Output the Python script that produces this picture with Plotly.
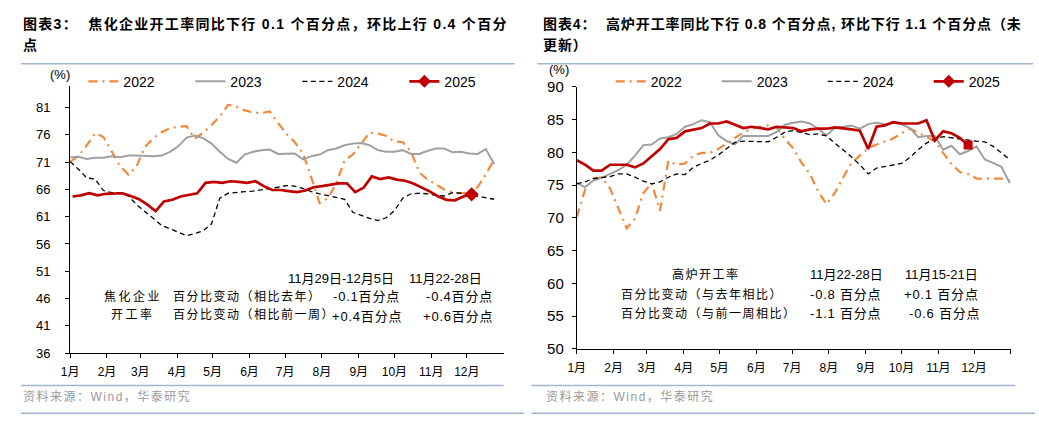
import pandas as pd
import plotly.graph_objects as go

# ---------------- data ----------------
month_labels = ["1月", "2月", "3月", "4月", "5月", "6月", "7月", "8月", "9月", "10月", "11月", "12月"]
series_names = ["2022", "2023", "2024", "2025"]

# Coking enterprises operating rate (%), weekly, plotted on a common calendar
coke_2022 = [71.1, 72.1, 74.1, 76.3, 75.6, 72.9, 70.3, 68.7, 70.3, 73.8, 75.4, 76.5, 77.2, 77.5, 77.6, 75.3,
             76.4, 77.8, 79.4, 81.5, 81.2, 80.5, 80.1, 80.0, 80.3, 78.2, 76.2, 74.7, 72.6, 68.2, 63.5, 64.4,
             67.1, 71.3, 72.4, 74.4, 76.4, 76.3, 75.8, 74.8, 74.7, 72.9, 69.1, 67.8, 66.9, 66.0, 65.4, 65.3,
             65.4, 66.4, 68.8, 71.5]
coke_2023 = [71.9, 72.0, 71.6, 71.8, 71.8, 72.1, 71.9, 72.2, 72.2, 72.1, 72.1, 72.2, 72.9, 73.9, 75.5, 75.9,
             75.4, 74.4, 72.9, 71.6, 70.9, 72.4, 72.9, 73.2, 73.3, 72.5, 72.5, 72.6, 71.5, 72.1, 72.4, 73.2,
             73.5, 74.1, 74.4, 74.5, 74.1, 73.2, 72.9, 72.9, 73.2, 72.5, 72.5, 73.1, 73.5, 73.5, 72.8, 72.9,
             72.6, 72.5, 73.4, 70.6]
coke_2024 = [71.1, 69.7, 68.1, 67.9, 65.8, 65.4, 65.4, 64.8, 63.2, 61.9, 60.7, 59.4, 58.8, 58.2, 57.5, 57.9,
             58.4, 59.7, 64.4, 65.3, 65.5, 65.6, 65.7, 65.9, 66.2, 66.4, 66.7, 66.6, 66.2, 65.6, 65.2, 64.9,
             64.6, 64.2, 61.8, 61.2, 60.7, 60.3, 60.8, 62.1, 64.4, 65.2, 65.3, 65.2, 64.9, 64.8, 65.4, 65.3,
             65.0, 64.8, 64.4, 64.2]
coke_2025 = [64.7, 64.9, 65.3, 64.9, 65.2, 65.3, 65.3, 64.8, 64.2, 63.2, 62.0, 63.8, 64.1, 64.7, 65.0, 65.3,
             67.2, 67.4, 67.2, 67.5, 67.4, 67.2, 67.5, 66.6, 65.9, 65.9, 65.7, 65.5, 65.8, 66.4, 66.6, 66.8,
             67.1, 67.1, 65.5, 66.3, 68.4, 67.9, 68.2, 67.8, 67.6, 67.1, 66.4, 65.6, 64.7, 64.1, 64.0, 64.7,
             65.1]
coke_starts = ["2025-01-01", "2025-01-01", "2025-01-01", "2025-01-03"]

# Blast furnace operating rate (%), weekly
bf_2022 = [70.1, 74.3, 76.0, 76.2, 74.5, 71.3, 68.4, 69.9, 73.8, 75.3, 71.1, 78.7, 78.1, 78.3, 79.5, 79.9,
           79.9, 80.5, 81.4, 82.2, 83.0, 83.6, 83.9, 84.1, 83.8, 82.0, 80.6, 78.4, 76.7, 74.0, 72.1, 73.8,
           76.2, 78.4, 79.5, 80.6, 81.2, 81.7, 82.1, 82.9, 83.6, 83.0, 82.3, 81.7, 79.9, 78.2, 77.0, 76.7,
           76.0, 76.0, 76.0, 76.0, 75.7]
bf_2023 = [75.3, 74.7, 75.7, 76.1, 76.7, 77.3, 78.1, 79.5, 81.1, 81.2, 82.1, 82.3, 82.8, 83.9, 84.3, 84.9,
           84.6, 82.6, 81.7, 81.2, 82.5, 82.5, 82.5, 82.5, 83.1, 84.2, 84.5, 84.7, 84.4, 83.6, 82.6, 83.7,
           83.9, 84.1, 83.6, 84.3, 84.5, 84.3, 84.5, 84.3, 83.7, 82.3, 82.5, 82.5, 80.4, 81.0, 79.7, 80.2,
           80.9, 78.9, 78.4, 77.8, 75.3]
bf_2024 = [75.2, 75.5, 76.0, 76.2, 76.3, 76.7, 76.7, 76.2, 75.6, 75.2, 75.5, 76.2, 76.7, 76.6, 77.7, 78.3,
           78.8, 79.6, 80.6, 81.5, 81.7, 81.7, 81.7, 81.6, 82.3, 83.1, 83.3, 83.0, 82.7, 82.8, 82.5, 81.4,
           80.4, 79.3, 78.1, 76.7, 77.6, 77.8, 78.1, 78.3, 79.2, 80.4, 81.4, 82.1, 82.4, 82.2, 82.0, 81.8,
           81.7, 81.6, 80.9, 79.9, 78.9]
bf_2025 = [78.8, 78.1, 77.2, 77.2, 78.1, 78.1, 78.1, 77.7, 78.3, 79.4, 80.5, 82.0, 82.2, 83.2, 83.5, 83.7,
           84.4, 84.4, 84.7, 84.2, 83.7, 83.9, 83.7, 83.5, 83.9, 83.8, 83.7, 83.2, 83.5, 83.6, 83.6, 83.8,
           83.7, 83.5, 83.3, 80.5, 83.9, 84.1, 84.6, 84.4, 84.4, 84.4, 84.9, 81.8, 83.2, 82.9, 82.2, 81.1]
bf_starts = ["2025-01-01", "2025-01-01", "2025-01-01", "2025-01-01"]

coke_ticks = list(range(36, 82, 5))
bf_ticks = list(range(50, 91, 5))

coke_title = ["图表3：\u00a0\u00a0焦化企业开工率同比下行 0.1 个百分点，环比上行 0.4 个百分", "点"]
bf_title = ["图表4：\u00a0\u00a0高炉开工率同比下行 0.8 个百分点, 环比下行 1.1 个百分点（未", "更新）"]
source_text = "资料来源：Wind，华泰研究"

coke_table = {
    "head": ["11月29日-12月5日", "11月22-28日"],
    "label": ["焦化企业", "开工率"],
    "rows": ["百分比变动（相比去年）", "百分比变动（相比前一周）"],
    "v1": ["-0.1百分点", "+0.4百分点"],
    "v2": ["-0.4百分点", "+0.6百分点"],
}
bf_table = {
    "label": "高炉开工率",
    "head": ["11月22-28日", "11月15-21日"],
    "rows": ["百分比变动（与去年相比）", "百分比变动（与前一周相比）"],
    "v1": ["-0.8 百分点", "-1.1 百分点"],
    "v2": ["+0.1 百分点", "-0.6 百分点"],
}

# ---------------- styles ----------------
W, H = 1039, 427
FONT = "Liberation Sans, Arial, Noto Sans CJK SC"
C22, C23, C24, C25 = "#F4883A", "#A0A0A0", "#000000", "#C00000"
RULE = "#A3B5CE"


def px(x):
    return x / W


def py(y):
    return 1 - y / H


def weeks(start, n):
    return pd.date_range(start, periods=n, freq="7D")


def ls(text, sp):
    return f'<span style="letter-spacing:{sp}px">{text}</span>'


styles = [
    dict(color=C22, width=2.2, dash="9px,5px,2px,5px"),
    dict(color=C23, width=2.0),
    dict(color=C24, width=1.3, dash="5px,3.5px"),
    dict(color=C25, width=2.7),
]

fig = go.Figure()

panels = [
    ("x", "y", "legend", [coke_2022, coke_2023, coke_2024, coke_2025], coke_starts, "diamond", 11),
    ("x2", "y2", "legend2", [bf_2022, bf_2023, bf_2024, bf_2025], bf_starts, "square", 9),
]
for xa, ya, lg, data, starts, sym, msize in panels:
    for name, vals, st, style in zip(series_names, data, starts, styles):
        xs = weeks(st, len(vals))
        is_red = name == "2025"
        fig.add_trace(go.Scatter(x=xs, y=vals, mode="lines", line=style, name=name,
                                 xaxis=xa, yaxis=ya, legend=lg, showlegend=not is_red,
                                 hoverinfo="skip"))
        if is_red:
            fig.add_trace(go.Scatter(x=[xs[-1]], y=[vals[-1]], mode="markers",
                                     marker=dict(symbol=sym, size=msize, color=C25),
                                     xaxis=xa, yaxis=ya, showlegend=False, hoverinfo="skip"))
            fig.add_trace(go.Scatter(x=[None], y=[None], mode="lines+markers", name=name,
                                     line=style, marker=dict(symbol="diamond", size=10, color=C25),
                                     xaxis=xa, yaxis=ya, legend=lg, showlegend=True))

month_vals = [f"2025-{m:02d}-01" for m in range(1, 13)]
xcommon = dict(type="date", range=["2025-01-01", "2026-01-01"], showline=True, linecolor="black",
               linewidth=1, ticks="outside", ticklen=4, tickcolor="black", showgrid=False,
               zeroline=False, tickfont=dict(family=FONT, size=12, color="black"), ticklabelstandoff=4)
fig.update_layout(
    xaxis=dict(domain=[px(61.7), px(499)], tickvals=month_vals, ticktext=month_labels, anchor="y", **xcommon),
    xaxis2=dict(domain=[px(572.7), px(1010.7)], tickvals=month_vals + ["2026-01-01"],
                ticktext=month_labels + [""], anchor="y2", **xcommon),
    yaxis=dict(domain=[py(358.3), py(80)], range=[36, 85], tickvals=coke_ticks, showline=True,
               linecolor="black", linewidth=1, ticks="outside", ticklen=4, tickcolor="black",
               showgrid=False, zeroline=False, tickfont=dict(family=FONT, size=13, color="black"),
               ticklabelstandoff=12, anchor="x"),
    yaxis2=dict(domain=[py(354), py(81)], range=[50, 90], tickvals=bf_ticks, showline=True,
                linecolor="black", linewidth=1, ticks="outside", ticklen=4, tickcolor="black",
                showgrid=False, zeroline=False, tickfont=dict(family=FONT, size=15, color="black"),
                ticklabelstandoff=5, anchor="x2"),
    legend=dict(orientation="h", x=px(75), y=py(75.7), xanchor="left", yanchor="middle",
                font=dict(family=FONT, size=14, color="black"), entrywidth=62, entrywidthmode="pixels",
                bgcolor="rgba(0,0,0,0)", tracegroupgap=0),
    legend2=dict(orientation="h", x=px(607), y=py(75.7), xanchor="left", yanchor="middle",
                 font=dict(family=FONT, size=14, color="black"), entrywidth=61, entrywidthmode="pixels",
                 bgcolor="rgba(0,0,0,0)", tracegroupgap=0),
    width=W, height=H, autosize=False, margin=dict(l=0, r=0, t=0, b=0),
    paper_bgcolor="white", plot_bgcolor="white", showlegend=True,
)

ann = []


def text(x, y, t, size=12, color="black", xanchor="left", bold=False, sp=0.0):
    s = ls(t, sp) if sp else t
    if bold:
        s = f"<b>{s}</b>"
    ann.append(dict(x=px(x), y=py(y), xref="paper", yref="paper", text=s, showarrow=False,
                    xanchor=xanchor, yanchor="middle", font=dict(family=FONT, size=size, color=color)))


# titles
text(12, 16, coke_title[0], size=14, bold=True, sp=1.3)
text(12, 38, coke_title[1], size=14, bold=True, sp=1.3)
text(537, 16, bf_title[0], size=14, bold=True, sp=0.9)
text(537, 38, bf_title[1], size=14, bold=True, sp=0.9)
# unit labels
text(51, 68.5, "(%)", size=13, xanchor="center")
text(555, 63.5, "(%)", size=13, xanchor="center")
# sources
text(12, 404, source_text, size=12, color="#9A9A9A", sp=1.5)
text(540, 404, source_text, size=12, color="#9A9A9A", sp=1.5)

# coke table
text(335, 281, coke_table["head"][0], size=13, xanchor="center")
text(440, 281, coke_table["head"][1], size=13, xanchor="center")
text(125, 299.5, coke_table["label"][0], size=12, xanchor="center", sp=2.5)
text(125, 318.5, coke_table["label"][1], size=12, xanchor="center", sp=2.5)
text(163, 299.5, coke_table["rows"][0], size=12, sp=1.5)
text(163, 318.5, coke_table["rows"][1], size=12, sp=1.5)
text(361, 299, coke_table["v1"][0], size=13, xanchor="center", sp=0.8)
text(361, 320, coke_table["v1"][1], size=13, xanchor="center", sp=0.8)
text(454, 299, coke_table["v2"][0], size=13, xanchor="center", sp=0.8)
text(453, 320, coke_table["v2"][1], size=13, xanchor="center", sp=0.8)

# blast furnace table
text(703, 276, bf_table["label"], size=12, xanchor="center", sp=1.5)
text(845, 276, bf_table["head"][0], size=13, xanchor="center")
text(941, 276, bf_table["head"][1], size=13, xanchor="center")
text(615, 297, bf_table["rows"][0], size=12, sp=1.5)
text(615, 317, bf_table["rows"][1], size=12, sp=1.5)
text(844, 297, bf_table["v1"][0], size=13, xanchor="center", sp=0.8)
text(844, 317, bf_table["v1"][1], size=13, xanchor="center", sp=0.8)
text(941, 297, bf_table["v2"][0], size=13, xanchor="center", sp=0.8)
text(944, 317, bf_table["v2"][1], size=13, xanchor="center", sp=0.8)

fig.update_layout(annotations=ann)

shapes = []
for x0, x1, y in [(12, 510, 57), (533, 1033, 57), (12, 499, 392), (527, 1015, 392),
                  (12, 520, 421), (527, 1035, 421)]:
    shapes.append(dict(type="line", xref="paper", yref="paper", x0=px(x0), x1=px(x1), y0=py(y), y1=py(y),
                       line=dict(color=RULE, width=1.5)))
fig.update_layout(shapes=shapes)

fig.write_html("out.html")
